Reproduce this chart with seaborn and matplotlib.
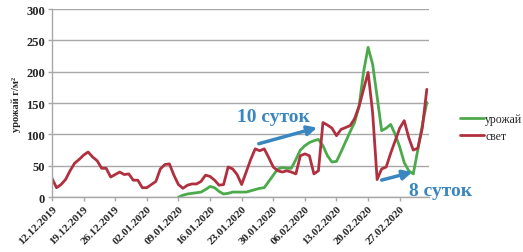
import numpy as np
import pandas as pd
import matplotlib
matplotlib.use("Agg")
import matplotlib.pyplot as plt
import matplotlib.dates as mdates
import seaborn as sns

# свет: дневные значения с 12.12.2019
svet = [30, 15, 20, 28, 42, 54, 60, 67, 72, 64,
        58, 46, 46, 32, 36, 40, 36, 37, 27, 27,
        15, 15, 20, 25, 45, 52, 53, 35, 20, 14,
        19, 21, 21, 25, 35, 33, 27, 19, 20, 48,
        45, 36, 20, 40, 60, 77, 74, 77, 63, 48,
        42, 40, 42, 40, 37, 66, 69, 66, 37, 42,
        119, 115, 110, 98, 108, 111, 114, 125, 145, 172,
        199, 135, 28, 45, 48, 70, 90, 110, 122, 95,
        75, 78, 110, 172]
# урожай начинается 09.01.2020 (день 28)
urozhai_start = 28
urozhai = [0, 3, 5, 6, 7, 8, 12, 17, 15, 9,
           5, 6, 8, 8, 8, 8, 10, 12, 14, 15,
           25, 35, 45, 47, 46, 46, 60, 75, 82, 87,
           90, 92, 82, 66, 56, 57, 72, 88, 104, 119,
           145, 200, 239, 212, 160, 106, 110, 116, 100, 80,
           55, 42, 37, 75, 115, 151]

dates = pd.date_range("2019-12-12", periods=len(svet), freq="D")
df = pd.DataFrame({"date": dates, "свет": svet})
df["урожай"] = np.nan
df.loc[urozhai_start:, "урожай"] = urozhai
long = df.melt(id_vars="date", var_name="series", value_name="value").dropna()

sns.set_style("whitegrid")
plt.rcParams["font.family"] = ["Liberation Serif", "DejaVu Serif"]

fig = plt.figure(figsize=(5.23, 2.53), dpi=100)
ax = fig.add_axes([0.0994, 0.217, 0.721, 0.743])

sns.lineplot(data=long, x="date", y="value", hue="series",
             hue_order=["урожай", "свет"],
             palette={"урожай": "#4caa4c", "свет": "#b03040"},
             linewidth=2.0, ax=ax)

ax.set_ylim(0, 300)
ax.set_yticks(range(0, 301, 50))
ax.set_xlim(dates[0], dates[-1] + pd.Timedelta(hours=12))
ax.set_xticks(dates[::7])
ax.xaxis.set_major_formatter(mdates.DateFormatter("%d.%m.%Y"))
ax.grid(axis="x", visible=False)
ax.grid(axis="y", color="#a8a8a8", linewidth=1.0)

for s in ["top", "right"]:
    ax.spines[s].set_visible(False)
for s in ["left", "bottom"]:
    ax.spines[s].set_color("#a8a8a8")
    ax.spines[s].set_linewidth(1.0)

ax.tick_params(axis="both", which="major", length=3, width=1, color="#a8a8a8",
               pad=2, bottom=True, left=True)
ax.tick_params(axis="x", labelsize=8)
ax.tick_params(axis="y", labelsize=9)
for lab in ax.get_xticklabels():
    lab.set_rotation(45)
    lab.set_ha("right")
    lab.set_rotation_mode("anchor")
    lab.set_fontweight("bold")
for lab in ax.get_yticklabels():
    lab.set_fontweight("bold")

ax.set_xlabel("")
ax.set_ylabel("урожай г/м²", fontsize=7.5, fontweight="bold", labelpad=4)

leg = ax.legend(loc="center left", bbox_to_anchor=(1.055, 0.37), frameon=False,
                fontsize=8.5, handlelength=2.0, handletextpad=0.1, labelspacing=0.45)

blue = "#3a86c0"
d0 = dates[0]
ax.annotate("", xy=(d0 + pd.Timedelta(days=59.3), 112), xytext=(d0 + pd.Timedelta(days=45.2), 84),
            arrowprops=dict(arrowstyle="-|>", color=blue, lw=2.5, mutation_scale=14))
ax.text(d0 + pd.Timedelta(days=41), 128, "10 суток", color=blue, fontsize=14,
        fontweight="bold", va="center", ha="left")
ax.annotate("", xy=(d0 + pd.Timedelta(days=80.4), 41), xytext=(d0 + pd.Timedelta(days=72.4), 26),
            arrowprops=dict(arrowstyle="-|>", color=blue, lw=2.5, mutation_scale=14),
            annotation_clip=False)
ax.text(d0 + pd.Timedelta(days=79), 11, "8 суток", color=blue, fontsize=14,
        fontweight="bold", va="center", ha="left", clip_on=False)

fig.savefig("out.png", dpi=100)
